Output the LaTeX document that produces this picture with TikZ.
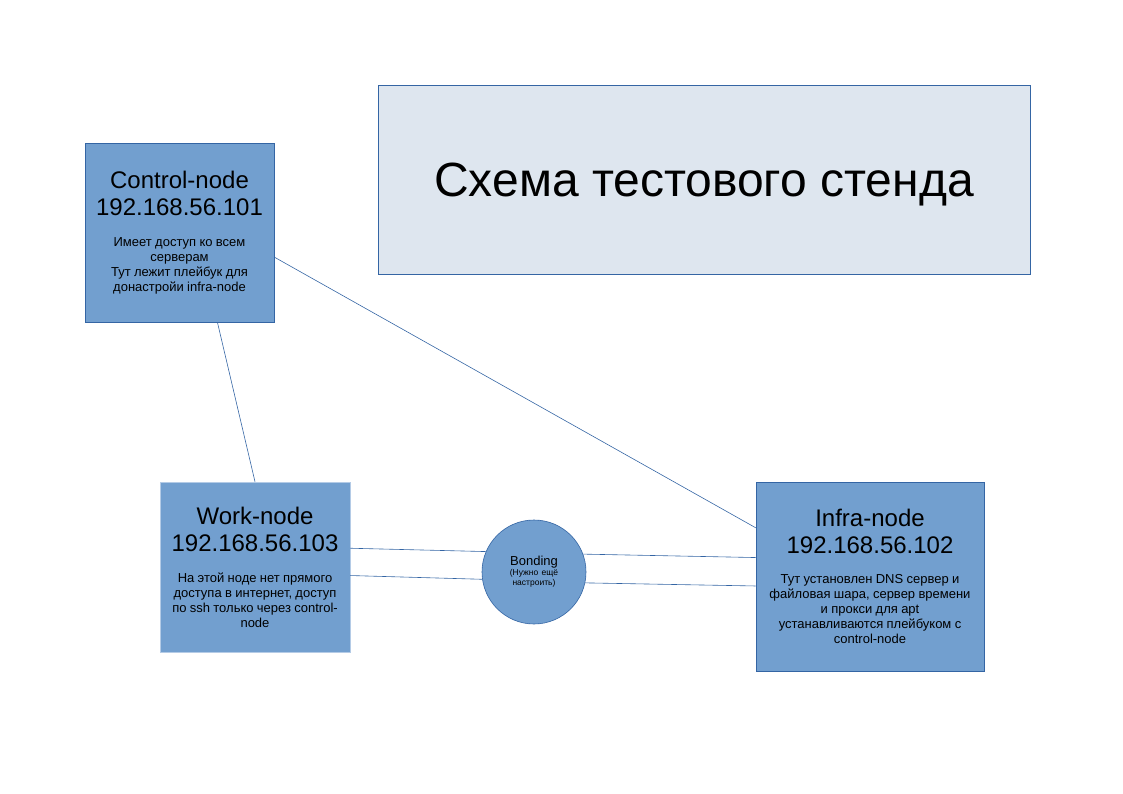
\documentclass[tikz,border=0pt]{standalone}
\usepackage{fontspec}
\setmainfont{Liberation Sans}
\usepackage{tikz}
\usetikzlibrary{shapes,arrows.meta,positioning,calc}
\definecolor{nodefill}{HTML}{729FCF}
\definecolor{nodeline}{HTML}{3465A4}
\definecolor{titlefill}{HTML}{DEE6EF}
\definecolor{workline}{HTML}{B4CBE6}

\newcommand{\hosttitle}{\fontsize{24}{27}\selectfont}
\newcommand{\hostnote}{\fontsize{13}{15}\selectfont}

\begin{document}
\begin{tikzpicture}
  [
    x=1pt, y=-1pt,
    Host/.style={rectangle, draw=nodeline, fill=nodefill, line width=0.6pt, inner sep=0pt, align=center},
    Caption/.style={rectangle, draw=nodeline, fill=titlefill, line width=0.8pt, minimum width=652pt, minimum height=189pt, text depth=0pt, font=\fontsize{48}{56}\selectfont},
    Bond/.style={circle, draw=nodeline, fill=nodefill, line width=0.6pt, minimum size=104pt, inner sep=0pt, align=center, text width=70pt},
    Link/.style={draw=nodeline, line width=0.6pt}
  ]
  \useasboundingbox (0,0) rectangle (1123,794);

  % Nodes
  \node[Caption] (caption) at (704, 179.5) {Схема тестового стенда};

  \node[Host, minimum width=189pt, minimum height=179pt, text width=180pt] (ctl) at (179.5, 232.5)
    {{\hosttitle Control-node\\192.168.56.101\par}\vspace{16pt}%
     {\hostnote Имеет доступ ко всем\\серверам\\Тут лежит плейбук для\\донастройи infra-node\par}};

  \node[Host, draw=workline, minimum width=190pt, minimum height=170pt, text width=182pt] (work) at (255, 567)
    {{\hosttitle Work-node\\192.168.56.103\par}\vspace{16pt}%
     {\hostnote На этой ноде нет прямого\\доступа в интернет, доступ\\по ssh только через control-\\node\par}};

  \node[Host, minimum width=228pt, minimum height=189pt, text width=220pt] (infra) at (870, 576.5)
    {{\hosttitle Infra-node\\192.168.56.102\par}\vspace{15pt}%
     {\hostnote Тут установлен DNS сервер и\\файловая шара, сервер времени\\и прокси для apt\\устанавливаются плейбуком с\\control-node\par}};

  \node[Bond] (bond) at (534, 572)
    {{\fontsize{13}{15}\selectfont Bonding\par}%
     {\fontsize{8.5}{10}\selectfont (Нужно ещё\\настроить)\par}};

  % Lines
  \path [Link] ($(ctl.south west)!0.70!(ctl.south east)$) -- (work.north);
  \path [Link] ($(ctl.north east)!0.637!(ctl.south east)$) -- ($(infra.north west)!0.243!(infra.south west)$);
  \path [Link] ($(work.north east)!0.39!(work.south east)$) -- (bond.157);
  \path [Link] (bond.20) -- ($(infra.north west)!0.40!(infra.south west)$);
  \path [Link] ($(work.north east)!0.55!(work.south east)$) -- (bond.188);
  \path [Link] (bond.348) -- ($(infra.north west)!0.55!(infra.south west)$);

\end{tikzpicture}
\end{document}
